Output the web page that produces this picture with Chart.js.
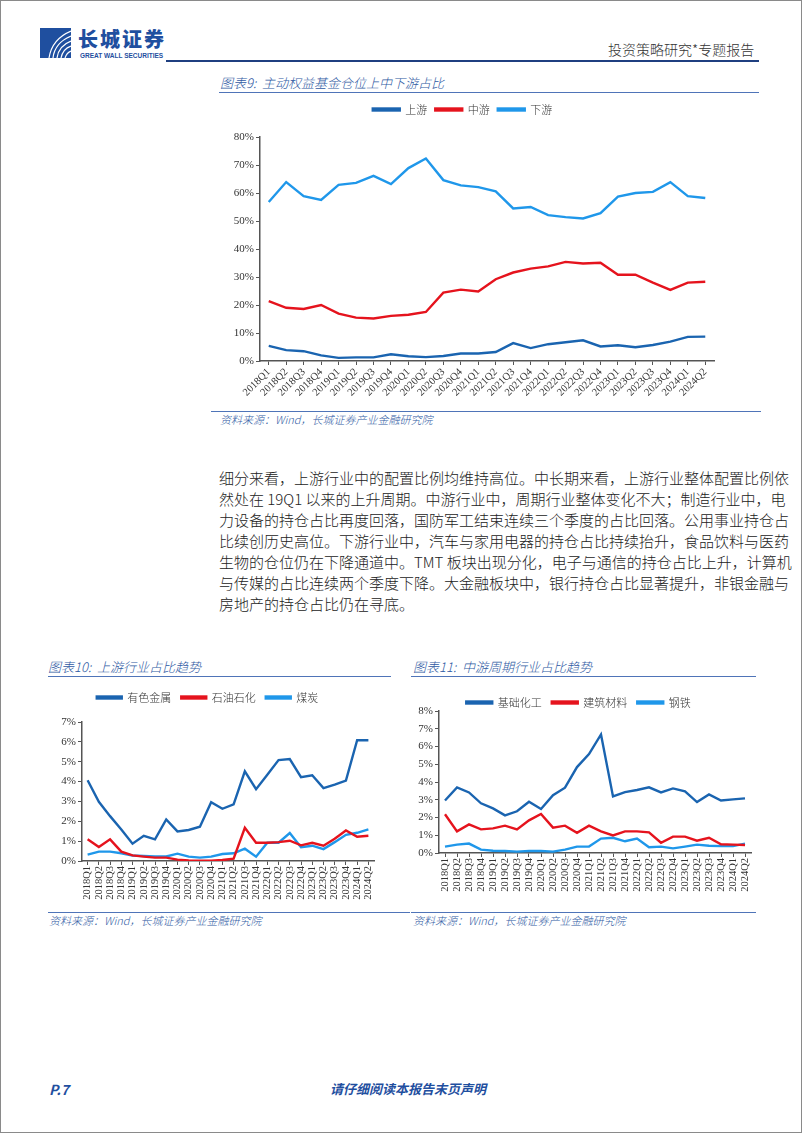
<!DOCTYPE html>
<html>
<head>
<meta charset="utf-8">
<script src="https://cdn.jsdelivr.net/npm/chart.js@4.4.1/dist/chart.umd.min.js"></script>
<style>
  html, body { margin: 0; padding: 0; background: #fff; }
  #page { position: relative; width: 800px; height: 1131px; border: 1px solid #8a8a8a; overflow: hidden;
          font-family: "Noto Sans CJK SC", "Noto Sans", sans-serif; }
  .abs { position: absolute; }
  .title { font-size: 13px; font-style: italic; font-weight: 300; color: #2f5aa3; white-space: nowrap; }
  .src { font-size: 11px; font-style: italic; font-weight: 300; color: #2f5aa3; white-space: nowrap; }
  .rule { position: absolute; height: 1px; background: #4f74b8; }
  .para div { height: 21px; line-height: 21px; font-size: 15px; font-weight: 300; color: #222; text-align: justify; text-align-last: justify; white-space: nowrap; }
  .para div.last { text-align-last: left; }
  canvas { position: absolute; }
</style>
</head>
<body>
<div id="page">
  <!-- header -->
  <svg class="abs" style="left:39px;top:27px" width="31" height="30" viewBox="0 0 31 30">
    <rect x="0" y="0" width="31" height="30" fill="#1f4f9f"/>
    <path d="M31 3 C19 8 11 17 9 30" stroke="#fff" stroke-width="1.2" fill="none"/>
    <path d="M31 8 C21 12 14 20 13 30" stroke="#fff" stroke-width="1.2" fill="none"/>
    <path d="M31 13 C23 16 18 22 17 30" stroke="#fff" stroke-width="1.2" fill="none"/>
    <path d="M31 18 C25 20 22 25 21 30" stroke="#fff" stroke-width="1.2" fill="none"/>
    <path d="M31 23 C28 24 26 27 25 30" stroke="#fff" stroke-width="1.2" fill="none"/>
  </svg>
  <div class="abs" style="left:77px;top:23px;font-size:20px;font-weight:900;color:#1f4f9f;letter-spacing:2px;">长城证券</div>
  <div class="abs" style="left:79px;top:51px;font-size:6.5px;font-weight:700;color:#1f4f9f;font-family:'Liberation Sans',sans-serif;letter-spacing:0px;">GREAT WALL SECURITIES</div>
  <div class="abs" style="left:607px;top:38px;font-size:14px;font-weight:300;color:#333;white-space:nowrap;">投资策略研究*专题报告</div>
  <div class="abs" style="left:165px;top:59px;width:593px;height:2px;background:#1f3f80;"></div>

  <!-- chart 9 -->
  <div class="abs title" style="left:219px;top:72px;">图表9:&nbsp; 主动权益基金仓位上中下游占比</div>
  <div class="rule" style="left:218px;top:91px;width:540px;"></div>
  <canvas id="c9" width="540" height="310" style="left:210px;top:95px;width:540px;height:310px;"></canvas>
  <div class="rule" style="left:210px;top:410px;width:550px;"></div>
  <div class="abs src" style="left:219px;top:410px;">资料来源：Wind，长城证券产业金融研究院</div>

  <!-- paragraph -->
  <div class="abs para" style="left:218px;top:466px;width:540px;">
    <div>细分来看，上游行业中的配置比例均维持高位。中长期来看，上游行业整体配置比例依</div>
    <div>然处在 19Q1 以来的上升周期。中游行业中，周期行业整体变化不大；制造行业中，电</div>
    <div>力设备的持仓占比再度回落，国防军工结束连续三个季度的占比回落。公用事业持仓占</div>
    <div>比续创历史高位。下游行业中，汽车与家用电器的持仓占比持续抬升，食品饮料与医药</div>
    <div>生物的仓位仍在下降通道中。TMT 板块出现分化，电子与通信的持仓占比上升，计算机</div>
    <div>与传媒的占比连续两个季度下降。大金融板块中，银行持仓占比显著提升，非银金融与</div>
    <div class="last">房地产的持仓占比仍在寻底。</div>
  </div>

  <!-- chart 10 -->
  <div class="abs title" style="left:47px;top:656px;">图表10:&nbsp; 上游行业占比趋势</div>
  <div class="rule" style="left:47px;top:675px;width:343px;"></div>
  <canvas id="c10" width="345" height="229" style="left:40px;top:681px;width:345px;height:229px;"></canvas>
  <div class="rule" style="left:47px;top:911px;width:362px;"></div>
  <div class="abs src" style="left:48px;top:911px;">资料来源：Wind，长城证券产业金融研究院</div>

  <!-- chart 11 -->
  <div class="abs title" style="left:412px;top:656px;">图表11:&nbsp; 中游周期行业占比趋势</div>
  <div class="rule" style="left:410px;top:675px;width:345px;"></div>
  <canvas id="c11" width="355" height="224" style="left:405px;top:686px;width:355px;height:224px;"></canvas>
  <div class="rule" style="left:410px;top:911px;width:345px;"></div>
  <div class="abs src" style="left:412px;top:911px;">资料来源：Wind，长城证券产业金融研究院</div>

  <!-- footer -->
  <div class="abs" style="left:48px;top:1078px;font-size:14px;font-weight:700;font-style:italic;color:#1f4f9f;">P.7</div>
  <div class="abs" style="left:329px;top:1078px;font-size:13px;font-weight:700;font-style:italic;color:#1f4f9f;white-space:nowrap;">请仔细阅读本报告末页声明</div>
</div>

<script>
const quarters = ['2018Q1','2018Q2','2018Q3','2018Q4','2019Q1','2019Q2','2019Q3','2019Q4',
                  '2020Q1','2020Q2','2020Q3','2020Q4','2021Q1','2021Q2','2021Q3','2021Q4',
                  '2022Q1','2022Q2','2022Q3','2022Q4','2023Q1','2023Q2','2023Q3','2023Q4',
                  '2024Q1','2024Q2'];

// 图表9 (%)
const upstream   = [5.4,3.9,3.5,2.0,1.1,1.3,1.3,2.4,1.7,1.4,1.8,2.7,2.7,3.2,6.4,4.6,6.0,6.7,7.4,5.2,5.6,4.9,5.7,6.9,8.6,8.7];
const midstream  = [21.4,19.0,18.6,20.0,16.9,15.5,15.2,16.1,16.5,17.5,24.4,25.5,24.8,29.2,31.6,33.0,33.8,35.4,34.8,35.1,30.8,30.8,28.0,25.4,28.0,28.3];
const downstream = [56.8,63.9,58.9,57.5,62.9,63.6,66.1,63.2,68.9,72.3,64.6,62.7,62.1,60.6,54.5,55.0,52.1,51.4,50.9,52.8,58.7,60.0,60.4,63.9,58.9,58.2];

// 图表10 (%)
const metals = [4.07,2.98,2.26,1.59,0.87,1.27,1.09,2.09,1.49,1.56,1.73,2.96,2.63,2.85,4.52,3.62,4.34,5.08,5.13,4.22,4.32,3.67,3.85,4.05,6.08,6.08];
const petro  = [1.09,0.70,1.09,0.47,0.28,0.22,0.17,0.17,0.07,0.03,0.02,0.02,0.05,0.12,1.67,0.92,0.92,0.95,1.02,0.79,0.92,0.77,1.12,1.54,1.22,1.27];
const coal   = [0.32,0.47,0.47,0.39,0.28,0.25,0.23,0.23,0.37,0.22,0.17,0.22,0.35,0.39,0.62,0.22,0.92,0.92,1.41,0.69,0.77,0.60,0.95,1.32,1.42,1.59];

// 图表11 (%)
const chemicals = [2.96,3.70,3.41,2.80,2.51,2.12,2.35,2.89,2.48,3.26,3.68,4.84,5.57,6.68,3.19,3.43,3.55,3.70,3.41,3.64,3.47,2.87,3.30,2.96,3.02,3.08];
const building  = [2.18,1.22,1.61,1.33,1.39,1.54,1.33,1.84,2.20,1.43,1.54,1.14,1.54,1.22,0.99,1.22,1.22,1.16,0.58,0.92,0.92,0.69,0.86,0.49,0.47,0.45];
const steel     = [0.36,0.47,0.53,0.19,0.13,0.11,0.08,0.11,0.11,0.08,0.19,0.36,0.36,0.81,0.86,0.66,0.81,0.32,0.36,0.26,0.36,0.47,0.41,0.39,0.39,0.53];

const DARK = '#1a64b0';
const RED = '#e5131d';
const LIGHT = '#1f97ea';
const AXIS = '#555';

// fixes the legend box height so the plot top lands where it should
const legendFit = {
    id: 'legendFit',
    beforeInit(chart, args, opts) {
        const fit = chart.legend.fit;
        chart.legend.fit = function () {
            fit.call(this);
            this.height = opts.h;
        };
    }
};

function ds(label, data, color) {
    return {
        label: label,
        data: data,
        borderColor: color,
        backgroundColor: color,
        borderWidth: 2.4,
        pointRadius: 0,
        tension: 0
    };
}

function makeChart(id, sets, cfg) {
    return new Chart(document.getElementById(id), {
        type: 'line',
        data: { labels: quarters, datasets: sets },
        plugins: [legendFit],
        options: {
            responsive: false,
            animation: false,
            layout: { padding: { left: 0, right: cfg.right, top: 0, bottom: 0 } },
            plugins: {
                legendFit: { h: cfg.legendH },
                tooltip: { enabled: false },
                legend: {
                    position: 'top',
                    labels: {
                        boxWidth: cfg.boxW,
                        boxHeight: 2,
                        padding: cfg.legendPad,
                        color: '#333',
                        font: { family: '"Noto Sans CJK SC"', size: 11, weight: 300 }
                    }
                }
            },
            scales: {
                x: {
                    offset: true,
                    grid: { display: true, drawOnChartArea: false, drawTicks: true, tickLength: 4, color: AXIS },
                    border: { display: true, color: AXIS, width: 1.5 },
                    ticks: {
                        autoSkip: false,
                        maxRotation: cfg.rot,
                        minRotation: cfg.rot,
                        padding: 1,
                        color: '#333',
                        font: { family: '"Liberation Serif"', size: 10.5 }
                    },
                    afterFit(scale) { scale.height = cfg.xH; }
                },
                y: {
                    min: 0,
                    max: cfg.max,
                    grid: { display: true, drawOnChartArea: false, drawTicks: true, tickLength: 4, color: AXIS },
                    border: { display: true, color: AXIS, width: 1.5 },
                    ticks: {
                        stepSize: cfg.step,
                        padding: 2,
                        color: '#333',
                        font: { family: '"Liberation Serif"', size: 11 },
                        callback: function (v) { return v + '%'; }
                    },
                    afterFit(scale) { scale.width = cfg.yW; }
                }
            }
        }
    });
}

makeChart('c9', [ds('上游', upstream, DARK), ds('中游', midstream, RED), ds('下游', downstream, LIGHT)],
    { right: 37, legendH: 41, boxW: 27, legendPad: 8, rot: 45, xH: 45, yW: 49, max: 80, step: 10 });

makeChart('c10', [ds('有色金属', metals, DARK), ds('石油石化', petro, RED), ds('煤炭', coal, LIGHT)],
    { right: 12, legendH: 40, boxW: 25, legendPad: 10, rot: 90, xH: 50, yW: 41, max: 7, step: 1 });

makeChart('c11', [ds('基础化工', chemicals, DARK), ds('建筑材料', building, RED), ds('钢铁', steel, LIGHT)],
    { right: 10, legendH: 24, boxW: 26, legendPad: 10, rot: 90, xH: 58, yW: 33, max: 8, step: 1 });
</script>
</body>
</html>
